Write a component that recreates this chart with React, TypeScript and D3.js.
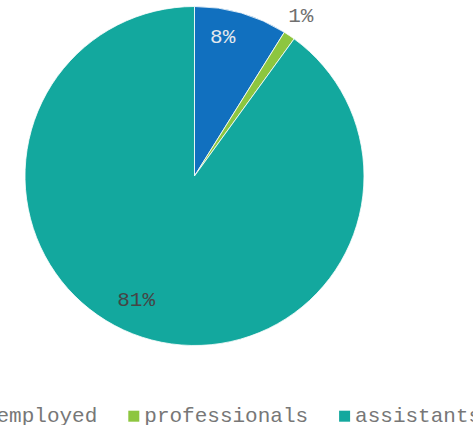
import React from "react";
import * as d3 from "d3";

const categories = ["employed", "professionals", "assistants"];
const values = [8, 1, 81];
const colors = ["#1170BF", "#8DC63F", "#13A89E"];
const labelColors = ["#e4e9ee", "#707070", "#454545"];
const labelInside = [true, false, true];

const W = 473;
const H = 425;
const FONT = "'Courier New', 'Liberation Mono', monospace";
const FS = 21;

export default function App() {
  const cx = 194.5;
  const cy = 176;
  const r = 169.5;

  const pie = d3
    .pie<number>()
    .sort(null)
    .value((d) => d)
    .startAngle(0)
    .endAngle(2 * Math.PI);
  const arcs = pie(values);
  const arc = d3.arc<d3.PieArcDatum<number>>().innerRadius(0).outerRadius(r);
  const inLabel = d3
    .arc<d3.PieArcDatum<number>>()
    .innerRadius(r * 0.81)
    .outerRadius(r * 0.81);
  const outLabel = d3
    .arc<d3.PieArcDatum<number>>()
    .innerRadius(190)
    .outerRadius(190);

  // legend layout
  const charW = FS * 0.6;
  const sw = 11;
  const swGap = 5;
  const itemPad = 31;
  const legendStart = -19.5;
  const legendBase = 421.7;
  let xpos = legendStart;
  const legendItems = categories.map((c, i) => {
    const item = { x: xpos, c, color: colors[i] };
    xpos += sw + swGap + c.length * charW + itemPad;
    return item;
  });

  return (
    <svg
      width={W}
      height={H}
      style={{ position: "absolute", left: 0, top: 0, background: "#fff" }}
    >
      <g transform={`translate(${cx},${cy})`}>
        {arcs.map((a, i) => (
          <path
            key={i}
            d={arc(a) || ""}
            fill={colors[i]}
            stroke="#fff"
            strokeWidth={0.8}
          />
        ))}
        {arcs.map((a, i) => {
          const [x, y] = labelInside[i] ? inLabel.centroid(a) : outLabel.centroid(a);
          return (
            <text
              key={i}
              x={labelInside[i] ? x + 3 : x}
              y={labelInside[i] ? y - 1 : y + 4}
              textAnchor={labelInside[i] ? "end" : "middle"}
              fill={labelColors[i]}
              fontFamily={FONT}
              fontSize={FS}
            >
              {`${values[i]}%`}
            </text>
          );
        })}
      </g>
      <g>
        {legendItems.map((it, i) => (
          <g key={i}>
            <rect
              x={it.x}
              y={legendBase - sw}
              width={sw}
              height={sw}
              fill={it.color}
            />
            <text
              x={it.x + sw + swGap}
              y={legendBase}
              fill="#777"
              fontFamily={FONT}
              fontSize={FS}
            >
              {it.c}
            </text>
          </g>
        ))}
      </g>
    </svg>
  );
}
